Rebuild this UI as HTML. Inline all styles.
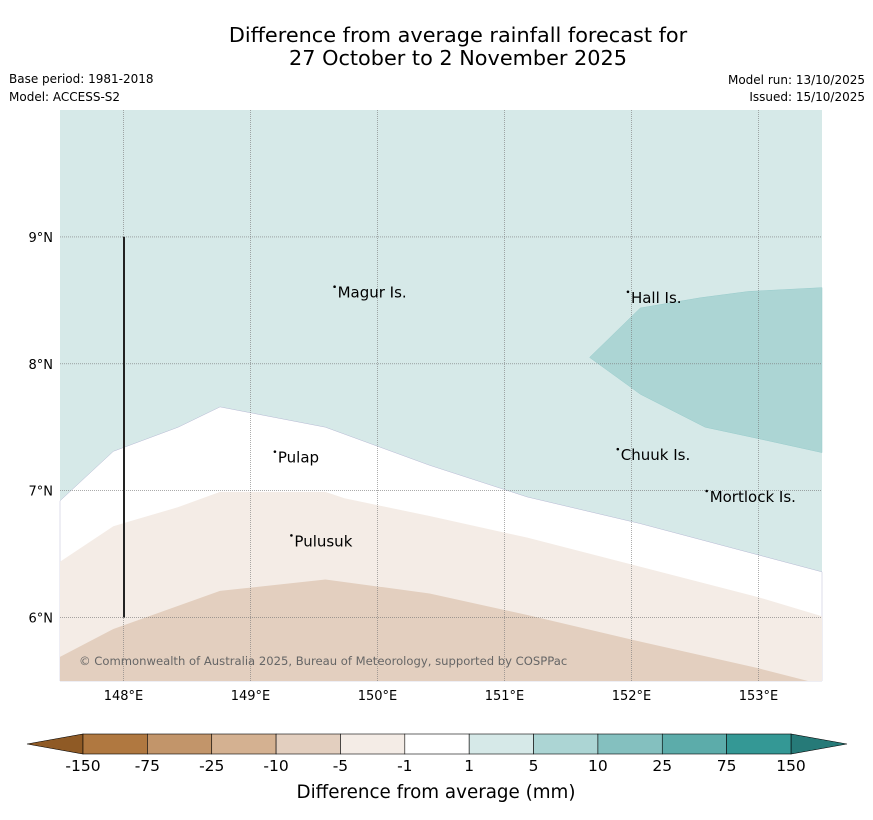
<!DOCTYPE html>
<html><head><meta charset="utf-8"><style>
body{margin:0;background:#fff;width:873px;height:816px;overflow:hidden;font-family:"DejaVu Sans","Liberation Sans",sans-serif}
svg text{font-family:"DejaVu Sans","Liberation Sans",sans-serif}
</style></head><body>
<svg id="c" width="873" height="816">
<text x="458" y="42" font-size="20.8" text-anchor="middle">Difference from average rainfall forecast for</text>
<text x="458" y="65" font-size="20.8" text-anchor="middle">27 October to 2 November 2025</text>
<text x="9" y="83" font-size="12">Base period: 1981-2018</text>
<text x="9" y="101" font-size="12">Model: ACCESS-S2</text>
<text x="865" y="84" font-size="12" text-anchor="end">Model run: 13/10/2025</text>
<text x="865" y="101" font-size="12" text-anchor="end">Issued: 15/10/2025</text>
<g id="map"></g>
<g id="cbar"></g>
<text x="436" y="798" font-size="18.3" text-anchor="middle">Difference from average (mm)</text>
</svg>
<script>
const NS="http://www.w3.org/2000/svg";
const lonTicks=[148,149,150,151,152,153];
const latTicks=[6,7,8,9];
// contour boundaries [lon,lat]
const teal1Bound=[[147.5,6.92],[147.92,7.31],[148.43,7.5],[148.76,7.66],[149.59,7.5],[150.41,7.2],[151.18,6.95],[152.07,6.74],[153.5,6.36]];
const teal5Region=[[151.67,8.05],[152.07,8.44],[152.54,8.52],[152.92,8.57],[153.5,8.6],[153.5,7.3],[153,7.41],[152.58,7.5],[152.07,7.76]];
const pinkBound=[[147.5,6.44],[147.92,6.72],[148.43,6.87],[148.76,6.99],[149.59,6.99],[149.74,6.94],[150.41,6.8],[151.18,6.63],[152.07,6.4],[153,6.16],[153.5,6.01]];
const tanBound=[[147.5,5.69],[147.92,5.91],[148.76,6.21],[149.59,6.3],[150.41,6.19],[151.18,6.02],[152.07,5.81],[153,5.6],[153.39,5.5]];
const places=[["Magur Is.",149.67,8.56],["Hall Is.",151.98,8.52],["Pulap",149.2,7.26],["Chuuk Is.",151.9,7.28],["Mortlock Is.",152.6,6.95],["Pulusuk",149.33,6.6]];
const cbLabels=["-150","-75","-25","-10","-5","-1","1","5","10","25","75","150"];
const cbColors=["#b07840","#c2956a","#d4b191","#e3cfbf","#f4ece6","#ffffff","#d6e9e8","#acd5d4","#84c0bf","#5cacaa","#349895"];
const X0=60,X1=822,Y0=110,Y1=681,L0=147.5,L1=153.5,A0=5.5,A1=10;
const x=l=>X0+(l-L0)/(L1-L0)*(X1-X0), y=a=>Y1-(a-A0)/(A1-A0)*(Y1-Y0);
const map=document.getElementById('map');
function mk(t,at,p){const e=document.createElementNS(NS,t);for(const k in at)e.setAttribute(k,at[k]);(p||map).appendChild(e);return e;}
const pts=a=>a.map(p=>x(p[0])+","+y(p[1])).join(" ");
let e;
e=mk('rect',{x:X0,y:Y0,width:X1-X0,height:Y1-Y0,fill:'#d6e9e8'});


e=mk('polygon',{points:pts(teal5Region),fill:'#acd5d4',stroke:'#9cc',"stroke-width":0.5});


e=mk('polygon',{points:pts(teal1Bound.concat([[153.5,5.5],[147.5,5.5]])),fill:'#ffffff',stroke:'#aac',"stroke-width":0.4});


e=mk('polygon',{points:pts(pinkBound.concat([[153.5,5.5],[147.5,5.5]])),fill:'#f4ece6'});


e=mk('polygon',{points:pts(tanBound.concat([[147.5,5.5]])),fill:'#e3cfbf'});


lonTicks.forEach(l=>{
 e=mk('line',{x1:x(l),x2:x(l),y1:Y0,y2:Y1,stroke:'#777',"stroke-width":0.6,"stroke-dasharray":"1,1"});
 
 
 e=mk('text',{x:x(l),y:700,"font-size":13,"text-anchor":"middle"});e.textContent=l+"°E";
 
 
});
latTicks.forEach(a=>{
 e=mk('line',{x1:X0,x2:X1,y1:y(a),y2:y(a),stroke:'#777',"stroke-width":0.6,"stroke-dasharray":"1,1"});
 
 
 e=mk('text',{x:53,y:y(a)+5,"font-size":13,"text-anchor":"end"});e.textContent=a+"°N";
 
 
});
e=mk('line',{x1:124,x2:124,y1:y(9),y2:y(6),stroke:'#222',"stroke-width":2});


places.forEach(p=>{
 e=mk('text',{x:x(p[1])+2,y:y(p[2])+5,"font-size":15});e.textContent=p[0];
 
 
 e=mk('circle',{cx:x(p[1])-1,cy:y(p[2])-6,r:1.3,fill:'#000'});
 
 
});
e=mk('text',{x:79,y:665,"font-size":11.6,fill:'#666'});e.textContent="© Commonwealth of Australia 2025, Bureau of Meteorology, supported by COSPPac";


const cb=document.getElementById('cbar');
const cx0=83,cx1=791,cy0=734,cy1=754,w=(cx1-cx0)/cbColors.length;
e=mk('polygon',{points:`27,744 ${cx0},${cy0} ${cx0},${cy1}`,fill:'#8f5a25',stroke:'#000',"stroke-width":0.6},cb);


e=mk('polygon',{points:`847,744 ${cx1},${cy0} ${cx1},${cy1}`,fill:'#267a78',stroke:'#000',"stroke-width":0.6},cb);


cbColors.forEach((c,i)=>{
 e=mk('rect',{x:cx0+i*w,y:cy0,width:w,height:cy1-cy0,fill:c,stroke:'#000',"stroke-width":0.6},cb);
 
 
});
cbLabels.forEach((t,i)=>{
 e=mk('text',{x:cx0+i*w,y:771,"font-size":15.5,"text-anchor":"middle"},cb);e.textContent=t;
 
 
});
</script>
</body></html>
